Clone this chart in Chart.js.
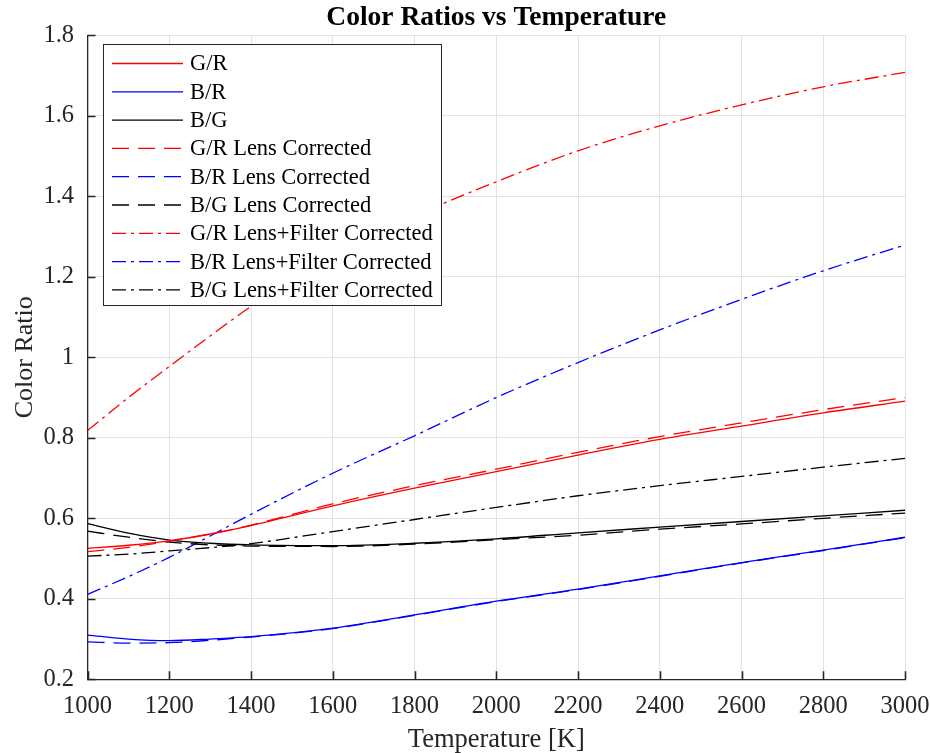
<!DOCTYPE html>
<html>
<head>
<meta charset="utf-8">
<script src="https://cdn.jsdelivr.net/npm/chart.js@4.4.1/dist/chart.umd.min.js"></script>
<style>
  html, body { margin: 0; padding: 0; background: #fff; }
  #wrap { width: 930px; height: 753px; }
</style>
</head>
<body>
<div id="wrap"><canvas id="ratios" width="930" height="753"></canvas></div>
<script>
const temps = [1000, 1100, 1200, 1300, 1400, 1600, 1800, 2000, 2200, 2400, 2600, 2800, 3000];

const grRatio  = [0.525, 0.533, 0.544, 0.561, 0.582, 0.631, 0.675, 0.716, 0.757, 0.796, 0.829, 0.862, 0.891];
const brRatio  = [0.310, 0.300, 0.296, 0.300, 0.306, 0.327, 0.360, 0.394, 0.424, 0.457, 0.490, 0.521, 0.553];
const bgRatio  = [0.587, 0.563, 0.546, 0.538, 0.534, 0.532, 0.538, 0.549, 0.564, 0.578, 0.592, 0.606, 0.620];

const grLens   = [0.517, 0.528, 0.543, 0.561, 0.583, 0.636, 0.681, 0.722, 0.764, 0.803, 0.837, 0.870, 0.900];
const brLens   = [0.293, 0.290, 0.291, 0.297, 0.305, 0.326, 0.359, 0.393, 0.423, 0.456, 0.489, 0.520, 0.552];
const bgLens   = [0.568, 0.553, 0.541, 0.534, 0.531, 0.530, 0.536, 0.547, 0.558, 0.573, 0.586, 0.600, 0.613];

const grFilter = [0.818, 0.900, 0.977, 1.053, 1.126, 1.245, 1.350, 1.436, 1.513, 1.575, 1.627, 1.672, 1.708];
const brFilter = [0.411, 0.455, 0.503, 0.556, 0.610, 0.712, 0.805, 0.900, 0.987, 1.068, 1.144, 1.215, 1.279];
const bgFilter = [0.506, 0.511, 0.519, 0.527, 0.537, 0.567, 0.597, 0.627, 0.656, 0.681, 0.704, 0.727, 0.749];

const xTicks = [1000, 1200, 1400, 1600, 1800, 2000, 2200, 2400, 2600, 2800, 3000];
const yTicks = [0.2, 0.4, 0.6, 0.8, 1, 1.2, 1.4, 1.6, 1.8];

const SOLID = [];
const DASHED = [17, 9];
const DASHDOT = [14, 5, 3, 5];
const AXIS = '#262626';

Chart.defaults.font.family = '"Liberation Serif", "DejaVu Serif", serif';
Chart.defaults.color = AXIS;

function series(label, values, color, dash) {
    return {
        label: label,
        data: temps.map((t, i) => ({ x: t, y: values[i] })),
        borderColor: color,
        backgroundColor: color,
        borderWidth: 1.3,
        borderDash: dash,
        pointRadius: 0,
        fill: false,
        cubicInterpolationMode: 'monotone',
    };
}

// axis lines get small inward ticks, matlab style
const innerTicks = {
    id: 'innerTicks',
    afterDraw(chart) {
        const { ctx, chartArea: a, scales } = chart;
        ctx.save();
        ctx.strokeStyle = AXIS;
        ctx.lineWidth = 1.6;
        ctx.beginPath();
        yTicks.forEach(v => {
            const y = Math.round(scales.y.getPixelForValue(v)) + 0.5;
            ctx.moveTo(a.left, y);
            ctx.lineTo(a.left + 8, y);
        });
        xTicks.forEach(v => {
            const x = Math.round(scales.x.getPixelForValue(v)) + 0.5;
            ctx.moveTo(x, a.bottom);
            ctx.lineTo(x, a.bottom - 8);
        });
        ctx.stroke();
        ctx.restore();
    }
};

// legend box sits inside the axes, top left
const boxLegend = {
    id: 'boxLegend',
    afterDraw(chart) {
        const { ctx } = chart;
        const left = 103.5, top = 44.5, w = 338, h = 261;
        ctx.save();
        ctx.fillStyle = '#fff';
        ctx.fillRect(left, top, w, h);
        ctx.strokeStyle = AXIS;
        ctx.lineWidth = 1;
        ctx.setLineDash([]);
        ctx.strokeRect(left, top, w, h);
        ctx.font = '22.5px "Liberation Serif", "DejaVu Serif", serif';
        ctx.textBaseline = 'middle';
        ctx.textAlign = 'left';
        chart.data.datasets.forEach((ds, i) => {
            const y = 63.5 + i * 28.3;
            ctx.strokeStyle = ds.borderColor;
            ctx.lineWidth = ds.borderWidth;
            ctx.setLineDash(ds.borderDash);
            ctx.beginPath();
            ctx.moveTo(112, y);
            ctx.lineTo(183, y);
            ctx.stroke();
            ctx.fillStyle = '#000';
            ctx.fillText(ds.label, 190, y + 1);
        });
        ctx.restore();
    }
};

(function () {
    const ctx = document.getElementById('ratios');
    new Chart(ctx, {
        type: 'line',
        data: {
            datasets: [
                series('G/R', grRatio, '#ff0000', SOLID),
                series('B/R', brRatio, '#0000ff', SOLID),
                series('B/G', bgRatio, '#000000', SOLID),
                series('G/R Lens Corrected', grLens, '#ff0000', DASHED),
                series('B/R Lens Corrected', brLens, '#0000ff', DASHED),
                series('B/G Lens Corrected', bgLens, '#000000', DASHED),
                series('G/R Lens+Filter Corrected', grFilter, '#ff0000', DASHDOT),
                series('B/R Lens+Filter Corrected', brFilter, '#0000ff', DASHDOT),
                series('B/G Lens+Filter Corrected', bgFilter, '#000000', DASHDOT),
            ]
        },
        options: {
            responsive: false,
            animation: false,
            layout: { padding: { left: 0, right: 25, top: 0, bottom: 0 } },
            scales: {
                x: {
                    type: 'linear',
                    min: 1000,
                    max: 3000,
                    afterBuildTicks: axis => { axis.ticks = xTicks.map(v => ({ value: v })); },
                    afterFit: axis => {
                        axis.height = 73.7;
                        axis.paddingLeft = 0;
                        axis.paddingRight = 0;
                    },
                    ticks: {
                        padding: 12.5,
                        maxRotation: 0,
                        font: { size: 24.5 },
                        color: AXIS,
                        callback: v => String(v),
                    },
                    grid: { color: '#e2e2e2', drawTicks: false },
                    border: { display: true, color: AXIS, width: 1.3 },
                    title: {
                        display: true,
                        text: 'Temperature [K]',
                        font: { size: 26.5, lineHeight: 1 },
                        color: AXIS,
                        padding: { top: 0, bottom: 0 },
                    },
                },
                y: {
                    type: 'linear',
                    min: 0.2,
                    max: 1.8,
                    afterBuildTicks: axis => { axis.ticks = yTicks.map(v => ({ value: v })); },
                    afterFit: axis => {
                        axis.width = 87.5;
                        axis.paddingTop = 0;
                        axis.paddingBottom = 0;
                    },
                    ticks: {
                        padding: 13.5,
                        font: { size: 24.5 },
                        color: AXIS,
                        callback: v => String(v),
                    },
                    grid: { color: '#e2e2e2', drawTicks: false },
                    border: { display: true, color: AXIS, width: 1.3 },
                    title: {
                        display: true,
                        text: 'Color Ratio',
                        font: { size: 26, lineHeight: 1.2 },
                        color: AXIS,
                        padding: { top: 10, bottom: 0 },
                    },
                },
            },
            plugins: {
                legend: { display: false },
                tooltip: { enabled: false },
                title: {
                    display: true,
                    fullSize: false,
                    text: 'Color Ratios vs Temperature',
                    color: '#000',
                    font: { size: 27.5, weight: 'bold', lineHeight: 1 },
                    padding: { top: 4.3, bottom: 3.5 },
                },
            },
        },
        plugins: [innerTicks, boxLegend],
    });
})();
</script>
</body>
</html>
